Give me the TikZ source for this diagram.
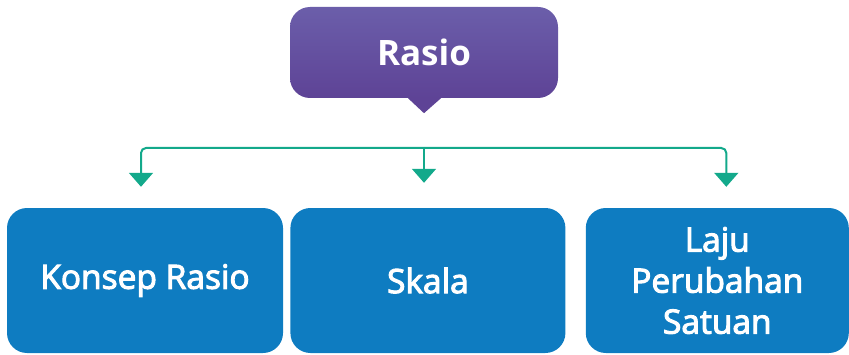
\documentclass[tikz,border=0pt]{standalone}
\usepackage{fontspec}
\setmainfont{Open Sans}
\newfontfamily\boxfont{Open Sans}[FakeBold=3]
\usetikzlibrary{arrows.meta,positioning,shapes.geometric}
\definecolor{rasiotop}{HTML}{6B5EAA}
\definecolor{rasiobot}{HTML}{5E4396}
\definecolor{boxblue}{HTML}{0E7CC1}
\definecolor{linkteal}{HTML}{13A98B}

\begin{document}
\begin{tikzpicture}[
  x=1pt, y=1pt, node distance=7pt and 7pt,
  head/.style={rectangle,rounded corners=20pt,top color=rasiotop,bottom color=rasiobot,text=white,font=\fontsize{35}{41}\selectfont\bfseries,minimum width=268pt,minimum height=91pt,inner sep=0pt},
  sub/.style={rectangle,rounded corners=20pt,fill=boxblue,text=white,align=center,font=\boxfont\fontsize{33.5}{41}\selectfont,minimum height=145pt,inner sep=0pt},
  arr/.style={-{Triangle[width=24pt,length=14pt]},draw=linkteal,line width=2pt,rounded corners=5pt}]
\useasboundingbox (0,0) rectangle (849,354);
\node[head] (rasio) at (424,301.5) {Rasio};
\fill[rasiobot] ([xshift=-16pt]rasio.south) -- ([xshift=17pt]rasio.south) -- ([yshift=-15pt]rasio.south) -- cycle;
\node[sub, minimum width=276pt] (konsep) at (145,73.5) {Konsep Rasio};
\node[sub, minimum width=275pt, right=of konsep] (skala) {Skala};
\node[sub, minimum width=263pt, right=of skala, xshift=13pt] (laju) {Laju\\Perubahan\\Satuan};
\coordinate (hub) at (424,206);
\draw[arr, shorten >=25pt] (hub) -- (hub |- skala.north);
\draw[arr, shorten >=21pt] (hub) -| ([xshift=-4pt]konsep.north);
\draw[arr, shorten >=21pt] (hub) -| ([xshift=9pt]laju.north);
\end{tikzpicture}
\end{document}
